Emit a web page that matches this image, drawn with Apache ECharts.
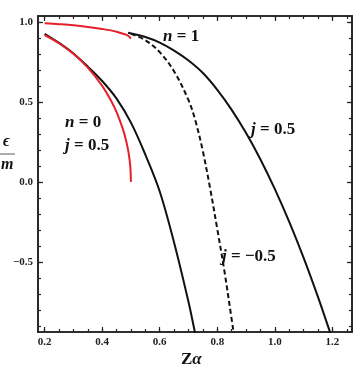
<!DOCTYPE html>
<html>
<head>
<meta charset="utf-8">
<script src="https://cdn.jsdelivr.net/npm/echarts@6/dist/echarts.min.js"></script>
<style>
html, body { margin: 0; padding: 0; background: #fff; }
#main { width: 354px; height: 369px; }
</style>
</head>
<body>
<div id="main"></div>
<script>
// point Coulomb levels (red)
const redN0 = [[0.2,0.917],[0.25,0.866],[0.3,0.8],[0.35,0.714],[0.4,0.6],[0.43,0.51],[0.45,0.436],[0.47,0.34],[0.48,0.28],[0.49,0.2],[0.495,0.14],[0.498,0.089],[0.5,0.0]];
const redN1 = [[0.2,0.991],[0.25,0.985],[0.3,0.978],[0.35,0.968],[0.4,0.955],[0.45,0.938],[0.48,0.921],[0.49,0.913],[0.5,0.894]];
// regularized levels (black)
const blackN0 = [[0.2,0.925],[0.25,0.868],[0.3,0.802],[0.35,0.72],[0.4,0.63],[0.45,0.52],[0.5,0.37],[0.55,0.17],[0.6,-0.06],[0.65,-0.38],[0.7,-0.75],[0.72,-0.92],[0.725,-0.965]];
const blackN1 = [[0.49,0.932],[0.55,0.905],[0.6,0.87],[0.65,0.82],[0.7,0.758],[0.75,0.68],[0.8,0.575],[0.85,0.45],[0.9,0.305],[0.95,0.14],[1.0,-0.045],[1.05,-0.25],[1.1,-0.475],[1.15,-0.72],[1.19,-0.93],[1.2,-0.985]];
const dashedN1 = [[0.5,0.925],[0.55,0.885],[0.6,0.81],[0.65,0.69],[0.7,0.51],[0.725,0.375],[0.75,0.19],[0.775,-0.04],[0.8,-0.295],[0.825,-0.56],[0.85,-0.86],[0.855,-0.92],[0.86,-0.98]];

const xMajor = [0.2, 0.4, 0.6, 0.8, 1.0, 1.2];
const xMinor = [0.2,0.25,0.3,0.35,0.4,0.45,0.5,0.55,0.6,0.65,0.7,0.75,0.8,0.85,0.9,0.95,1.0,1.05,1.1,1.15,1.2,1.25];
const yMajor = [-0.5, 0.0, 0.5, 1.0];
const yMinor = [-0.9,-0.8,-0.7,-0.6,-0.5,-0.4,-0.3,-0.2,-0.1,0,0.1,0.2,0.3,0.4,0.5,0.6,0.7,0.8,0.9,1.0];

const X_MIN = 0.177, X_MAX = 1.268;
const Y_MIN = -0.9375, Y_MAX = 1.036;

var chart = echarts.init(document.getElementById('main'));

function fmt(v) {
  return v.toFixed(1).replace('-', '\u2212');
}

function axis(pos, min, max, ticks, len, labels) {
  return {
    type: 'value',
    position: pos,
    min: min,
    max: max,
    axisLine: { show: true, onZero: false, lineStyle: { color: '#222', width: 1.6 } },
    axisTick: { show: true, inside: true, length: len, customValues: ticks, lineStyle: { color: '#222', width: 1.2 } },
    axisLabel: labels ? {
      show: true,
      customValues: ticks,
      formatter: fmt,
      margin: 5,
      fontFamily: 'Liberation Serif',
      fontWeight: 'bold',
      fontSize: 11,
      color: '#222'
    } : { show: false },
    splitLine: { show: false }
  };
}

function line(data, color, dashed) {
  return {
    type: 'line',
    data: data,
    xAxisIndex: 0,
    yAxisIndex: 0,
    showSymbol: false,
    smooth: 0.35,
    z: color === '#111' ? 2 : 3,
    lineStyle: { color: color, width: 2, type: dashed ? [5, 3] : 'solid' }
  };
}

const labelFont = { fontFamily: 'Liberation Serif', fontWeight: 'bold', fontSize: 17, fill: '#111' };
function txt(x, y, s) {
  return {
    type: 'text', left: x, top: y,
    style: Object.assign({ text: s, rich: { i: { fontStyle: 'italic', fontFamily: 'Liberation Serif', fontWeight: 'bold', fontSize: 17 } } }, labelFont)
  };
}

var option = {
  animation: false,
  backgroundColor: '#fff',
  grid: { left: 38, right: 2, top: 16, bottom: 37 },
  xAxis: [
    axis('bottom', X_MIN, X_MAX, xMajor, 5, true),
    axis('bottom', X_MIN, X_MAX, xMinor, 3, false),
    axis('top', X_MIN, X_MAX, xMajor, 5, false),
    axis('top', X_MIN, X_MAX, xMinor, 3, false)
  ],
  yAxis: [
    axis('left', Y_MIN, Y_MAX, yMajor, 5, true),
    axis('left', Y_MIN, Y_MAX, yMinor, 3, false),
    axis('right', Y_MIN, Y_MAX, yMajor, 5, false),
    axis('right', Y_MIN, Y_MAX, yMinor, 3, false)
  ],
  series: [
    line(blackN0, '#111', false),
    line(blackN1, '#111', false),
    line(dashedN1, '#111', true),
    line(redN0, '#e4202b', false),
    line(redN1, '#e4202b', false)
  ],
  graphic: [
    txt(163, 28, '{i|n} = 1'),
    txt(65, 114, '{i|n} = 0'),
    txt(65, 137, '{i|j} = 0.5'),
    txt(251, 121, '{i|j} = 0.5'),
    txt(222, 248, '{i|j} = \u22120.5'),
    {
      type: 'text', left: 181, top: 351,
      style: { text: 'Z{i|\u03b1}', rich: { i: { fontStyle: 'italic', fontFamily: 'Liberation Serif', fontWeight: 'bold', fontSize: 17 } }, fontFamily: 'Liberation Serif', fontWeight: 'bold', fontSize: 17, fill: '#111' }
    },
    {
      type: 'text', left: 3, top: 134,
      style: { text: '\u03f5', fontFamily: 'Liberation Serif', fontStyle: 'italic', fontWeight: 'bold', fontSize: 16, fill: '#111' }
    },
    {
      type: 'line', shape: { x1: 0, y1: 154, x2: 15, y2: 154 },
      style: { stroke: '#777', lineWidth: 1.2 }
    },
    {
      type: 'text', left: 1, top: 157,
      style: { text: 'm', fontFamily: 'Liberation Serif', fontStyle: 'italic', fontWeight: 'bold', fontSize: 16, fill: '#111' }
    }
  ]
};

chart.setOption(option);
</script>
</body>
</html>
